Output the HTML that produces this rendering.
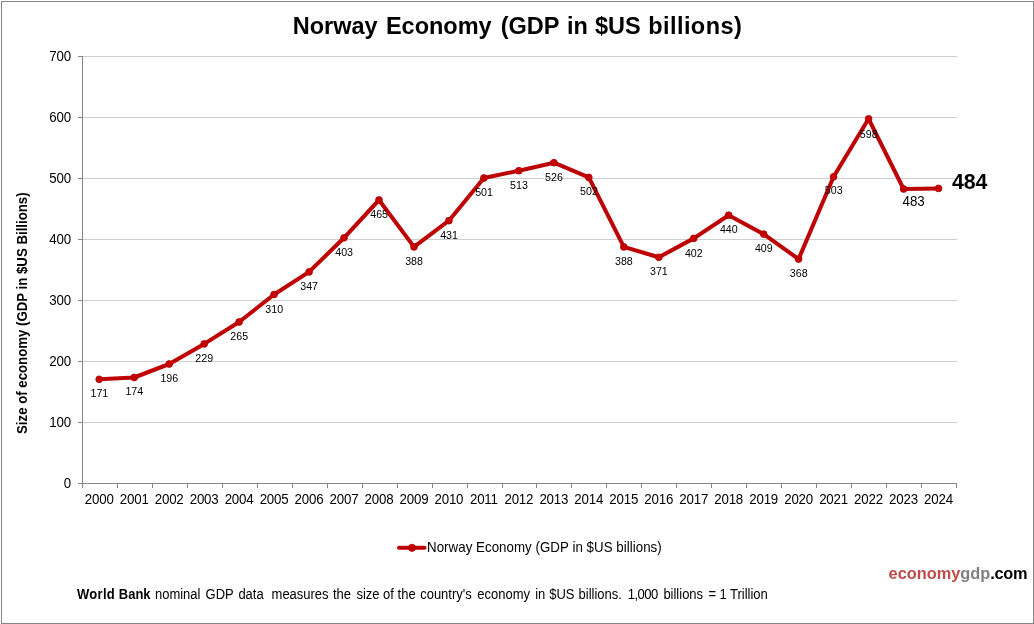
<!DOCTYPE html>
<html lang="en"><head><meta charset="utf-8"><title>Norway Economy (GDP in $US billions)</title>
<style>
html,body{margin:0;padding:0;background:#fff;}
body{width:1034px;height:624px;overflow:hidden;}
svg{display:block;font-family:"Liberation Sans",Arial,sans-serif;}
text{fill:#000;white-space:pre;}
</style></head><body>
<svg width="1034" height="624" viewBox="0 0 1034 624">
<rect x="0" y="0" width="1034" height="624" fill="#fff"/>
<rect x="1.5" y="1.5" width="1032" height="622" fill="none" stroke="#868686" stroke-width="1"/>

<g stroke="#cfcfcf" stroke-width="1" shape-rendering="crispEdges">
<line x1="83" y1="422.5" x2="957" y2="422.5"/>
<line x1="83" y1="361.5" x2="957" y2="361.5"/>
<line x1="83" y1="300.5" x2="957" y2="300.5"/>
<line x1="83" y1="239.5" x2="957" y2="239.5"/>
<line x1="83" y1="178.5" x2="957" y2="178.5"/>
<line x1="83" y1="117.5" x2="957" y2="117.5"/>
<line x1="83" y1="56.5" x2="957" y2="56.5"/>
</g>
<g stroke="#868686" stroke-width="1" shape-rendering="crispEdges">
<line x1="82.5" y1="56" x2="82.5" y2="484"/>
<line x1="78" y1="483.5" x2="957" y2="483.5"/>
<line x1="78" y1="422.5" x2="83" y2="422.5"/>
<line x1="78" y1="361.5" x2="83" y2="361.5"/>
<line x1="78" y1="300.5" x2="83" y2="300.5"/>
<line x1="78" y1="239.5" x2="83" y2="239.5"/>
<line x1="78" y1="178.5" x2="83" y2="178.5"/>
<line x1="78" y1="117.5" x2="83" y2="117.5"/>
<line x1="78" y1="56.5" x2="83" y2="56.5"/>
<line x1="82.5" y1="483" x2="82.5" y2="488"/>
<line x1="117.5" y1="483" x2="117.5" y2="488"/>
<line x1="152.5" y1="483" x2="152.5" y2="488"/>
<line x1="187.5" y1="483" x2="187.5" y2="488"/>
<line x1="222.5" y1="483" x2="222.5" y2="488"/>
<line x1="257.5" y1="483" x2="257.5" y2="488"/>
<line x1="292.5" y1="483" x2="292.5" y2="488"/>
<line x1="327.5" y1="483" x2="327.5" y2="488"/>
<line x1="362.5" y1="483" x2="362.5" y2="488"/>
<line x1="397.5" y1="483" x2="397.5" y2="488"/>
<line x1="432.5" y1="483" x2="432.5" y2="488"/>
<line x1="467.5" y1="483" x2="467.5" y2="488"/>
<line x1="502.5" y1="483" x2="502.5" y2="488"/>
<line x1="536.5" y1="483" x2="536.5" y2="488"/>
<line x1="571.5" y1="483" x2="571.5" y2="488"/>
<line x1="606.5" y1="483" x2="606.5" y2="488"/>
<line x1="641.5" y1="483" x2="641.5" y2="488"/>
<line x1="676.5" y1="483" x2="676.5" y2="488"/>
<line x1="711.5" y1="483" x2="711.5" y2="488"/>
<line x1="746.5" y1="483" x2="746.5" y2="488"/>
<line x1="781.5" y1="483" x2="781.5" y2="488"/>
<line x1="816.5" y1="483" x2="816.5" y2="488"/>
<line x1="851.5" y1="483" x2="851.5" y2="488"/>
<line x1="886.5" y1="483" x2="886.5" y2="488"/>
<line x1="921.5" y1="483" x2="921.5" y2="488"/>
<line x1="956.5" y1="483" x2="956.5" y2="488"/>
</g>
<text y="33.7" font-size="23.5" font-weight="bold"><tspan x="292.70">Norway </tspan><tspan x="385.90">Economy </tspan><tspan x="500.70">(GDP </tspan><tspan x="566.90">in </tspan><tspan x="594.90">$US </tspan><tspan x="648.30" letter-spacing="0.42">billions)</tspan></text>
<text transform="translate(70.90 488.00) scale(1 1.05)" font-size="13.33" text-anchor="end" letter-spacing="-0.2">0</text>
<text transform="translate(70.90 427.00) scale(1 1.05)" font-size="13.33" text-anchor="end" letter-spacing="-0.2">100</text>
<text transform="translate(70.90 366.00) scale(1 1.05)" font-size="13.33" text-anchor="end" letter-spacing="-0.2">200</text>
<text transform="translate(70.90 305.00) scale(1 1.05)" font-size="13.33" text-anchor="end" letter-spacing="-0.2">300</text>
<text transform="translate(70.90 244.00) scale(1 1.05)" font-size="13.33" text-anchor="end" letter-spacing="-0.2">400</text>
<text transform="translate(70.90 183.00) scale(1 1.05)" font-size="13.33" text-anchor="end" letter-spacing="-0.2">500</text>
<text transform="translate(70.90 122.00) scale(1 1.05)" font-size="13.33" text-anchor="end" letter-spacing="-0.2">600</text>
<text transform="translate(70.90 61.00) scale(1 1.05)" font-size="13.33" text-anchor="end" letter-spacing="-0.2">700</text>
<text transform="translate(99.20 504.00) scale(1 1.05)" font-size="13.33" text-anchor="middle" letter-spacing="-0.2">2000</text>
<text transform="translate(134.17 504.00) scale(1 1.05)" font-size="13.33" text-anchor="middle" letter-spacing="-0.2">2001</text>
<text transform="translate(169.14 504.00) scale(1 1.05)" font-size="13.33" text-anchor="middle" letter-spacing="-0.2">2002</text>
<text transform="translate(204.11 504.00) scale(1 1.05)" font-size="13.33" text-anchor="middle" letter-spacing="-0.2">2003</text>
<text transform="translate(239.08 504.00) scale(1 1.05)" font-size="13.33" text-anchor="middle" letter-spacing="-0.2">2004</text>
<text transform="translate(274.05 504.00) scale(1 1.05)" font-size="13.33" text-anchor="middle" letter-spacing="-0.2">2005</text>
<text transform="translate(309.02 504.00) scale(1 1.05)" font-size="13.33" text-anchor="middle" letter-spacing="-0.2">2006</text>
<text transform="translate(343.99 504.00) scale(1 1.05)" font-size="13.33" text-anchor="middle" letter-spacing="-0.2">2007</text>
<text transform="translate(378.96 504.00) scale(1 1.05)" font-size="13.33" text-anchor="middle" letter-spacing="-0.2">2008</text>
<text transform="translate(413.93 504.00) scale(1 1.05)" font-size="13.33" text-anchor="middle" letter-spacing="-0.2">2009</text>
<text transform="translate(448.90 504.00) scale(1 1.05)" font-size="13.33" text-anchor="middle" letter-spacing="-0.2">2010</text>
<text transform="translate(483.87 504.00) scale(1 1.05)" font-size="13.33" text-anchor="middle" letter-spacing="-0.2">2011</text>
<text transform="translate(518.84 504.00) scale(1 1.05)" font-size="13.33" text-anchor="middle" letter-spacing="-0.2">2012</text>
<text transform="translate(553.81 504.00) scale(1 1.05)" font-size="13.33" text-anchor="middle" letter-spacing="-0.2">2013</text>
<text transform="translate(588.78 504.00) scale(1 1.05)" font-size="13.33" text-anchor="middle" letter-spacing="-0.2">2014</text>
<text transform="translate(623.75 504.00) scale(1 1.05)" font-size="13.33" text-anchor="middle" letter-spacing="-0.2">2015</text>
<text transform="translate(658.72 504.00) scale(1 1.05)" font-size="13.33" text-anchor="middle" letter-spacing="-0.2">2016</text>
<text transform="translate(693.69 504.00) scale(1 1.05)" font-size="13.33" text-anchor="middle" letter-spacing="-0.2">2017</text>
<text transform="translate(728.66 504.00) scale(1 1.05)" font-size="13.33" text-anchor="middle" letter-spacing="-0.2">2018</text>
<text transform="translate(763.63 504.00) scale(1 1.05)" font-size="13.33" text-anchor="middle" letter-spacing="-0.2">2019</text>
<text transform="translate(798.60 504.00) scale(1 1.05)" font-size="13.33" text-anchor="middle" letter-spacing="-0.2">2020</text>
<text transform="translate(833.57 504.00) scale(1 1.05)" font-size="13.33" text-anchor="middle" letter-spacing="-0.2">2021</text>
<text transform="translate(868.54 504.00) scale(1 1.05)" font-size="13.33" text-anchor="middle" letter-spacing="-0.2">2022</text>
<text transform="translate(903.51 504.00) scale(1 1.05)" font-size="13.33" text-anchor="middle" letter-spacing="-0.2">2023</text>
<text transform="translate(938.48 504.00) scale(1 1.05)" font-size="13.33" text-anchor="middle" letter-spacing="-0.2">2024</text>
<text transform="translate(27.2 313.2) rotate(-90) scale(1 1.057)" font-size="13.24" font-weight="bold" text-anchor="middle">Size of economy (GDP in $US Billions)</text>
<polyline points="99.2,379.3 134.2,377.5 169.2,364.0 204.2,343.9 239.1,322.0 274.1,294.5 309.1,271.9 344.0,237.8 379.0,200.0 414.0,246.9 448.9,220.7 483.9,178.0 518.9,170.7 553.9,162.7 588.8,177.4 623.8,246.9 658.8,257.3 693.7,238.4 728.7,215.2 763.7,234.1 798.6,259.1 833.6,176.8 868.6,118.8 903.6,189.0 938.5,188.4" fill="none" stroke="#be0305" stroke-width="4.05" stroke-linejoin="round" stroke-linecap="round"/>
<g fill="#c60000" stroke="#b00000" stroke-width="0.8">
<circle cx="99.2" cy="379.3" r="3.4"/>
<circle cx="134.2" cy="377.5" r="3.4"/>
<circle cx="169.2" cy="364.0" r="3.4"/>
<circle cx="204.2" cy="343.9" r="3.4"/>
<circle cx="239.1" cy="322.0" r="3.4"/>
<circle cx="274.1" cy="294.5" r="3.4"/>
<circle cx="309.1" cy="271.9" r="3.4"/>
<circle cx="344.0" cy="237.8" r="3.4"/>
<circle cx="379.0" cy="200.0" r="3.4"/>
<circle cx="414.0" cy="246.9" r="3.4"/>
<circle cx="448.9" cy="220.7" r="3.4"/>
<circle cx="483.9" cy="178.0" r="3.4"/>
<circle cx="518.9" cy="170.7" r="3.4"/>
<circle cx="553.9" cy="162.7" r="3.4"/>
<circle cx="588.8" cy="177.4" r="3.4"/>
<circle cx="623.8" cy="246.9" r="3.4"/>
<circle cx="658.8" cy="257.3" r="3.4"/>
<circle cx="693.7" cy="238.4" r="3.4"/>
<circle cx="728.7" cy="215.2" r="3.4"/>
<circle cx="763.7" cy="234.1" r="3.4"/>
<circle cx="798.6" cy="259.1" r="3.4"/>
<circle cx="833.6" cy="176.8" r="3.4"/>
<circle cx="868.6" cy="118.8" r="3.4"/>
<circle cx="903.6" cy="189.0" r="3.4"/>
<circle cx="938.5" cy="188.4" r="3.4"/>
</g>
<text x="99.35" y="397.00" font-size="10.67" text-anchor="middle">171</text>
<text x="134.32" y="395.00" font-size="10.67" text-anchor="middle">174</text>
<text x="169.29" y="382.00" font-size="10.67" text-anchor="middle">196</text>
<text x="204.26" y="362.00" font-size="10.67" text-anchor="middle">229</text>
<text x="239.23" y="340.00" font-size="10.67" text-anchor="middle">265</text>
<text x="274.20" y="313.00" font-size="10.67" text-anchor="middle">310</text>
<text x="309.17" y="290.00" font-size="10.67" text-anchor="middle">347</text>
<text x="344.14" y="256.00" font-size="10.67" text-anchor="middle">403</text>
<text x="379.11" y="218.00" font-size="10.67" text-anchor="middle">465</text>
<text x="414.08" y="265.00" font-size="10.67" text-anchor="middle">388</text>
<text x="449.05" y="239.00" font-size="10.67" text-anchor="middle">431</text>
<text x="484.02" y="196.00" font-size="10.67" text-anchor="middle">501</text>
<text x="518.99" y="189.00" font-size="10.67" text-anchor="middle">513</text>
<text x="553.96" y="181.00" font-size="10.67" text-anchor="middle">526</text>
<text x="588.93" y="195.00" font-size="10.67" text-anchor="middle">502</text>
<text x="623.90" y="265.00" font-size="10.67" text-anchor="middle">388</text>
<text x="658.87" y="275.00" font-size="10.67" text-anchor="middle">371</text>
<text x="693.84" y="257.00" font-size="10.67" text-anchor="middle">402</text>
<text x="728.81" y="233.00" font-size="10.67" text-anchor="middle">440</text>
<text x="763.78" y="252.00" font-size="10.67" text-anchor="middle">409</text>
<text x="798.75" y="277.00" font-size="10.67" text-anchor="middle">368</text>
<text x="833.72" y="194.00" font-size="10.67" text-anchor="middle">503</text>
<text x="868.69" y="138.00" font-size="10.67" text-anchor="middle">598</text>
<text transform="translate(913.60 206.40) scale(1 1.05)" font-size="13.33" text-anchor="middle">483</text>
<text x="951.90" y="189.00" font-size="21.33" font-weight="bold">484</text>
<line x1="399" y1="547.8" x2="424.5" y2="547.8" stroke="#be0305" stroke-width="4" stroke-linecap="round"/>
<circle cx="412" cy="547.8" r="3.6" fill="#c60000" stroke="#b00000" stroke-width="0.8"/>
<text transform="translate(427.00 551.80) scale(1 1.05)" font-size="13.33" letter-spacing="0.03">Norway Economy (GDP in $US billions)</text>
<text transform="translate(0 598.8) scale(1 1.06)" font-size="13.0"><tspan x="77.0" font-weight="bold" letter-spacing="0.3">World </tspan><tspan x="118.8" font-weight="bold">Bank </tspan><tspan x="155.0">nominal </tspan><tspan x="205.6">GDP </tspan><tspan x="238.4">data  </tspan><tspan x="271.6">measures </tspan><tspan x="333.0">the </tspan><tspan x="356.4">size </tspan><tspan x="383.0">of </tspan><tspan x="397.6">the </tspan><tspan x="420.2">country's </tspan><tspan x="477.3">economy </tspan><tspan x="535.2">in </tspan><tspan x="549.2">$US </tspan><tspan x="578.6">billions. </tspan><tspan x="627.8" letter-spacing="-0.5">1,000 </tspan><tspan x="663.4">billions </tspan><tspan x="708.4">= </tspan><tspan x="719.6">1 </tspan><tspan x="730.0">Trillion</tspan></text>
<text font-size="16.35" font-weight="bold" x="888.6" y="579"><tspan fill="#be4b48">economy</tspan><tspan fill="#7f7f7f">gdp</tspan><tspan fill="#000" letter-spacing="-0.35">.com</tspan></text>
</svg></body></html>
